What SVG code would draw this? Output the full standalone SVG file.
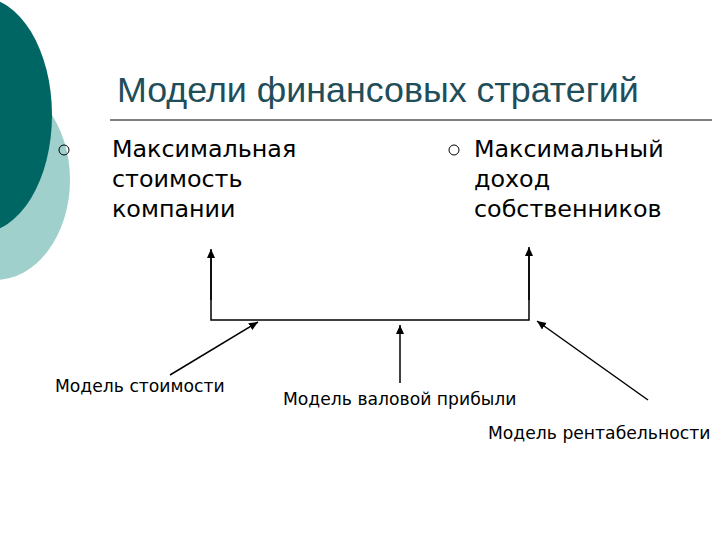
<svg xmlns="http://www.w3.org/2000/svg" width="720" height="540" viewBox="0 0 720 540">
<style>
.t{font-family:"DejaVu Sans",sans-serif;fill:#000}
.b{font-size:23.8px}
.s{font-size:17.2px}
.c{stroke:#000;stroke-width:1.5;fill:none}
</style>
<defs><marker id="a" markerWidth="10" markerHeight="10" refX="9" refY="5" orient="auto" markerUnits="userSpaceOnUse"><path d="M0,1 L9,5 L0,9 z" fill="#000"/></marker></defs>
<g id="deco">
<ellipse cx="-5" cy="180" rx="75" ry="100" fill="#9fd0cc"/>
<ellipse cx="-20" cy="115" rx="72" ry="118" fill="#006663"/>
</g>
<g id="title">
<text x="117" y="102" font-family="Liberation Sans,sans-serif" font-size="35.8" fill="#1f4e5a">Модели финансовых стратегий</text>
<line x1="110" y1="120" x2="712" y2="120" stroke="#000" stroke-width="1"/>
</g>
<g id="n1">
<circle cx="64" cy="150" r="5" fill="none" stroke="#000" stroke-width="1"/>
<text class="t b" x="112" y="157">Максимальная</text>
<text class="t b" x="112" y="187">стоимость</text>
<text class="t b" x="112" y="217">компании</text>
</g>
<g id="n2">
<circle cx="454" cy="150" r="5" fill="none" stroke="#000" stroke-width="1"/>
<text class="t b" x="474" y="157">Максимальный</text>
<text class="t b" x="474" y="187">доход</text>
<text class="t b" x="474" y="217">собственников</text>
</g>
<g id="n3"><text class="t s" x="55" y="392">Модель стоимости</text></g>
<g id="n4"><text class="t s" x="283" y="405">Модель валовой прибыли</text></g>
<g id="n5"><text class="t s" x="488" y="439">Модель рентабельности</text></g>
<g id="connectors">
<path class="c" d="M211,250 V320 H529 V250" />
<line class="c" x1="211" y1="300" x2="211" y2="249" marker-end="url(#a)"/>
<line class="c" x1="529" y1="300" x2="529" y2="247" marker-end="url(#a)"/>
<line class="c" x1="170" y1="375" x2="258" y2="322" marker-end="url(#a)"/>
<line class="c" x1="400" y1="383" x2="400" y2="325" marker-end="url(#a)"/>
<line class="c" x1="648" y1="400" x2="537" y2="321" marker-end="url(#a)"/>
</g>
</svg>
